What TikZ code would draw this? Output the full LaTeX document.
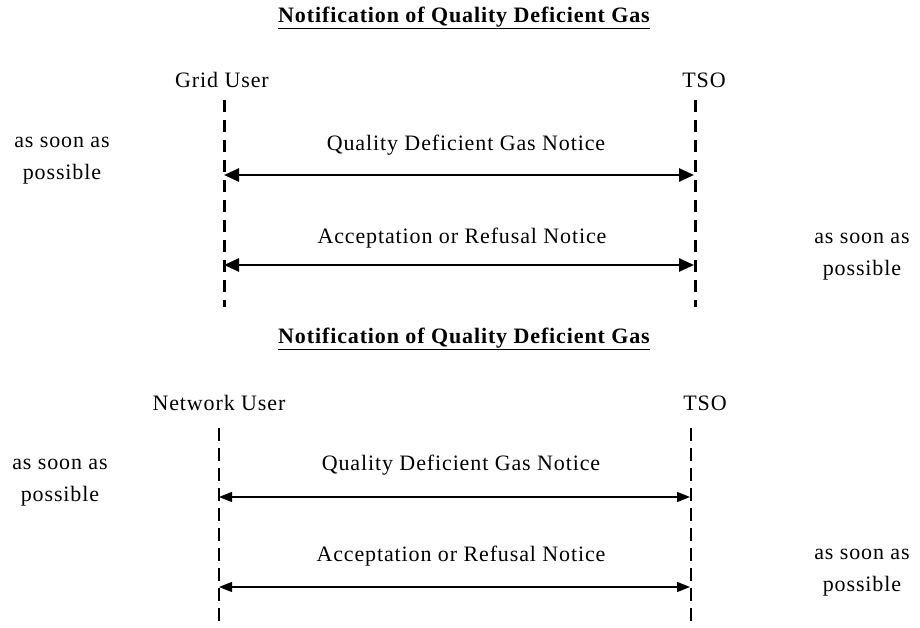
\documentclass[tikz,border=0pt]{standalone}
\usepackage{fontspec}
\setmainfont{Liberation Serif}[LetterSpace=4]
\usetikzlibrary{arrows.meta}
\begin{document}
\begin{tikzpicture}[x=1pt,y=-1pt,
  every node/.style={inner sep=0pt,font=\fontsize{22}{32}\selectfont},
  titletext/.style={font=\fontsize{22}{26}\selectfont\bfseries},
  asap/.style={align=center},
  lifeA/.style={line width=3pt,dash pattern=on 12pt off 8pt},
  lifeB/.style={line width=1.3pt,dash pattern=on 13pt off 7pt},
  msgA/.style={line width=2.6pt,{Triangle[length=15pt,width=13pt]}-{Triangle[length=15pt,width=13pt]}},
  msgB/.style={line width=1.3pt,{Triangle[length=13pt,width=10pt]}-{Triangle[length=13pt,width=10pt]}}]
\useasboundingbox (0,0) rectangle (920,628);
% ---------- upper diagram ----------
\node[titletext] (t1) at (464,18) {\underline{Notification of Quality Deficient Gas}};
\node (gu) at (222,80) {Grid User};
\node (tso1) at (704,80) {TSO};
\coordinate (gutop) at (224,100);
\coordinate (gubot) at (224,307);
\coordinate (ts1top) at (695,100);
\coordinate (ts1bot) at (695,307);
\draw[lifeA] (gutop) -- (gubot);
\draw[lifeA] (ts1top) -- (ts1bot);
\node (m1) at (466,145) {Quality Deficient Gas Notice};
\coordinate (m1l) at (224,175);
\coordinate (m1r) at (694,175);
\draw[msgA] (m1l) -- (m1r);
\node (m2) at (462,238) {Acceptation or Refusal Notice};
\coordinate (m2l) at (224,265);
\coordinate (m2r) at (694,265);
\draw[msgA] (m2l) -- (m2r);
\node[asap] (a1) at (62,161) {as soon as\\possible};
\node[asap] (a2) at (862,257) {as soon as\\possible};
% ---------- lower diagram ----------
\node[titletext] (t2) at (464,339) {\underline{Notification of Quality Deficient Gas}};
\node (nu) at (219,403) {Network User};
\node (tso2) at (705,403) {TSO};
\coordinate (nutop) at (219,428);
\coordinate (nubot) at (219,628);
\coordinate (ts2top) at (691,428);
\coordinate (ts2bot) at (691,628);
\draw[lifeB] (nutop) -- (nubot);
\draw[lifeB] (ts2top) -- (ts2bot);
\node (m3) at (461,465) {Quality Deficient Gas Notice};
\coordinate (m3l) at (219,497);
\coordinate (m3r) at (690,497);
\draw[msgB] (m3l) -- (m3r);
\node (m4) at (461,556) {Acceptation or Refusal Notice};
\coordinate (m4l) at (219,587);
\coordinate (m4r) at (690,587);
\draw[msgB] (m4l) -- (m4r);
\node[asap] (a3) at (60,483) {as soon as\\possible};
\node[asap] (a4) at (862,573) {as soon as\\possible};
\end{tikzpicture}
\end{document}
